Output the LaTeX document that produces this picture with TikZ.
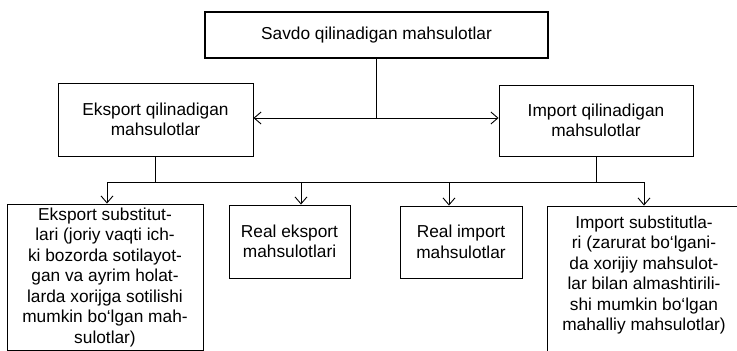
\documentclass[tikz,border=0pt]{standalone}
\usepackage{fontspec}
\setmainfont{Liberation Sans}
\usetikzlibrary{arrows.meta}
\begin{document}
\begin{tikzpicture}[x=1pt,y=-1pt,
  every node/.style={font=\fontsize{17.3}{20.5}\selectfont, align=center, inner sep=0pt},
  box/.style={draw, line width=0.9pt, minimum width=#1},
  topbox/.style={draw, line width=1.8pt, minimum width=343pt, minimum height=46pt},
  conn/.style={line width=0.9pt},
  arr/.style={conn, -{Straight Barb[length=7pt,width=12pt,line width=0.9pt]}},
  dbl/.style={conn, {Straight Barb[length=7pt,width=12pt,line width=0.9pt]}-{Straight Barb[length=7pt,width=12pt,line width=0.9pt]}}
]
\useasboundingbox (0,0) rectangle (737,351);
\clip (0,0) rectangle (737,351);

\node[topbox] (top) at (376.5,35) {Savdo qilinadigan mahsulotlar};
\node[box=195pt, minimum height=73pt] (exp) at (155.5,119.5) {Eksport qilinadigan\\mahsulotlar};
\node[box=194pt, minimum height=71pt] (imp) at (596,120.5) {Import qilinadigan\\mahsulotlar};

\node[box=196pt, minimum height=146pt] (es) at (105,277) {};
\node (estext) at (105,277.5) {Eksport substitut-\\lari (joriy vaqti ich-\\ki bozorda sotilayot-\\gan va ayrim holat-\\larda xorijga sotilishi\\mumkin bo‘lgan mah-\\sulotlar)};
\node[box=121pt, minimum height=73pt] (re) at (289.5,241.5) {Real eksport\\mahsulotlari};
\node[box=122pt, minimum height=72pt] (ri) at (461,242) {Real import\\mahsulotlar};
\node[box=194pt, minimum height=160pt] (is) at (644,286) {};
\node (istext) at (644,275) {Import substitutla-\\ri (zarurat bo‘lgani-\\da xorijiy mahsulot-\\lar bilan almashtirili-\\shi mumkin bo‘lgan\\mahalliy mahsulotlar)};

\coordinate (hb) at (376.5,118);
\coordinate (a1) at (107,182);
\coordinate (a2) at (301,182);
\coordinate (a3) at (449,182);
\coordinate (a4) at (644,182);

\draw[conn] (top.south) -- (hb);
\draw[dbl] (exp.east |- hb) -- (imp.west |- hb);
\draw[conn] (exp.south) -- (exp.south |- a1);
\draw[conn] (imp.south) -- (imp.south |- a1);
\draw[conn] (a1) -- (a4);
\draw[arr] (a1) -- (a1 |- es.north);
\draw[arr] (a2) -- (a2 |- re.north);
\draw[arr] (a3) -- (a3 |- ri.north);
\draw[arr] (a4) -- (a4 |- is.north);
\end{tikzpicture}
\end{document}
